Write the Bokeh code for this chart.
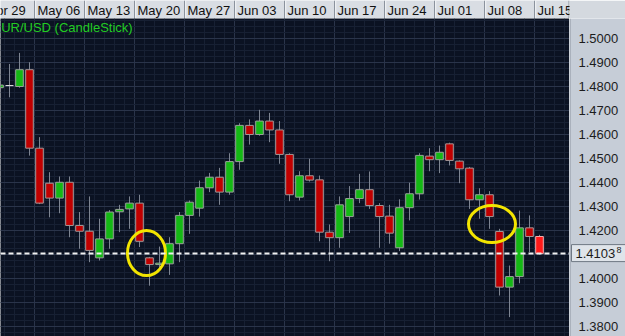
import numpy as np
from bokeh.plotting import figure
from bokeh.layouts import column, row
from bokeh.models import (ColumnDataSource, Range1d, FixedTicker, Span, Label, Grid)
from bokeh.embed import file_html
from bokeh.resources import INLINE
from bokeh.core.properties import value

# ---------------- data (EUR/USD daily, 2011) ----------------
dates = ["2011-05-02", "2011-05-03", "2011-05-04", "2011-05-05", "2011-05-06",
         "2011-05-09", "2011-05-10", "2011-05-11", "2011-05-12", "2011-05-13",
         "2011-05-16", "2011-05-17", "2011-05-18", "2011-05-19", "2011-05-20",
         "2011-05-23", "2011-05-24", "2011-05-25", "2011-05-26", "2011-05-27",
         "2011-05-30", "2011-05-31", "2011-06-01", "2011-06-02", "2011-06-03",
         "2011-06-06", "2011-06-07", "2011-06-08", "2011-06-09", "2011-06-10",
         "2011-06-13", "2011-06-14", "2011-06-15", "2011-06-16", "2011-06-17",
         "2011-06-20", "2011-06-21", "2011-06-22", "2011-06-23", "2011-06-24",
         "2011-06-27", "2011-06-28", "2011-06-29", "2011-06-30", "2011-07-01",
         "2011-07-04", "2011-07-05", "2011-07-06", "2011-07-07", "2011-07-08",
         "2011-07-11", "2011-07-12", "2011-07-13", "2011-07-14", "2011-07-15"]

opens = [1.4795, 1.4804, 1.4800, 1.4870, 1.4543,
         1.4397, 1.4335, 1.4401, 1.4221, 1.4197,
         1.4086, 1.4165, 1.4278, 1.4290, 1.4314,
         1.4086, 1.4058, 1.4061, 1.4145, 1.4263,
         1.4293, 1.4378, 1.4422, 1.4360, 1.4487,
         1.4638, 1.4600, 1.4656, 1.4619, 1.4517,
         1.4339, 1.4428, 1.4411, 1.4193, 1.4170,
         1.4258, 1.4333, 1.4370, 1.4304, 1.4260,
         1.4128, 1.4295, 1.4353, 1.4510, 1.4495,
         1.4561, 1.4489, 1.4460, 1.4328, 1.4349,
         1.4196, 1.3964, 1.4008, 1.4211, 1.4175]

highs = [1.4830, 1.4894, 1.4940, 1.4901, 1.4589,
         1.4443, 1.4425, 1.4425, 1.4277, 1.4342,
         1.4249, 1.4285, 1.4307, 1.4342, 1.4349,
         1.4090, 1.4133, 1.4172, 1.4277, 1.4325,
         1.4408, 1.4440, 1.4461, 1.4522, 1.4647,
         1.4663, 1.4703, 1.4690, 1.4656, 1.4522,
         1.4447, 1.4499, 1.4429, 1.4225, 1.4342,
         1.4385, 1.4436, 1.4446, 1.4314, 1.4307,
         1.4330, 1.4399, 1.4522, 1.4543, 1.4554,
         1.4566, 1.4492, 1.4465, 1.4376, 1.4364,
         1.4207, 1.4054, 1.4283, 1.4263, 1.4182]

lows = [1.4780, 1.4755, 1.4795, 1.4512, 1.4310,
        1.4255, 1.4272, 1.4172, 1.4124, 1.4068,
        1.4075, 1.4124, 1.4193, 1.4207, 1.4131,
        1.3970, 1.4033, 1.4015, 1.4068, 1.4186,
        1.4258, 1.4360, 1.4307, 1.4349, 1.4453,
        1.4558, 1.4595, 1.4568, 1.4478, 1.4322,
        1.4325, 1.4404, 1.4155, 1.4072, 1.4128,
        1.4190, 1.4314, 1.4290, 1.4128, 1.4145,
        1.4114, 1.4242, 1.4329, 1.4447, 1.4439,
        1.4471, 1.4397, 1.4290, 1.4249, 1.4207,
        1.3929, 1.3839, 1.3980, 1.4110, 1.4100]

closes = [1.4806, 1.4804, 1.4870, 1.4543, 1.4314,
          1.4335, 1.4401, 1.4221, 1.4197, 1.4117,
          1.4165, 1.4277, 1.4288, 1.4314, 1.4155,
          1.4058, 1.4064, 1.4145, 1.4263, 1.4318,
          1.4378, 1.4422, 1.4360, 1.4487, 1.4638,
          1.4600, 1.4656, 1.4619, 1.4517, 1.4349,
          1.4428, 1.4410, 1.4193, 1.4170, 1.4307,
          1.4333, 1.4370, 1.4304, 1.4258, 1.4189,
          1.4295, 1.4353, 1.4513, 1.4495, 1.4526,
          1.4492, 1.4457, 1.4328, 1.4349, 1.4258,
          1.3964, 1.4008, 1.4211, 1.4175, 1.41038]

week_dates = ["2011-04-29", "2011-05-06", "2011-05-13", "2011-05-20", "2011-05-27",
              "2011-06-03", "2011-06-10", "2011-06-17", "2011-06-24", "2011-07-01",
              "2011-07-08", "2011-07-15"]
week_labels = ["Apr 29", "May 06", "May 13", "May 20", "May 27", "Jun 03",
               "Jun 10", "Jun 17", "Jun 24", "Jul 01", "Jul 08", "Jul 15"]

price_ticks = [1.38, 1.39, 1.40, 1.41, 1.42, 1.43, 1.44, 1.45, 1.46, 1.47, 1.48, 1.49, 1.50]
last_price = 1.41038

# highlighted areas (yellow rings): trading-day position, price, size
ring_x = [14.7, 49.25]
ring_y = [1.4106, 1.4227]
ring_w = [3.8, 4.7]
ring_h = [0.0188, 0.0154]

title_text = "EUR/USD (CandleStick)"

# ---------------- derived ----------------
start = np.datetime64(dates[0])
xs = np.busday_count(start, np.array(dates, dtype="datetime64[D]")).astype(float)
seps = np.busday_count(start, np.array(week_dates, dtype="datetime64[D]")).astype(float) - 0.5

o = np.array(opens); h = np.array(highs); l = np.array(lows); c = np.array(closes)
fills, borders = [], []
for i in range(len(o)):
    if i == len(o) - 1:
        fills.append("#ff1a1a"); borders.append("#f2b0b0")
    elif c[i] > o[i]:
        fills.append("#14b814"); borders.append("#9aa39a")
    elif c[i] < o[i]:
        fills.append("#c00000"); borders.append("#a39a9a")
    else:
        fills.append("#d8d8d8"); borders.append("#d8d8d8")

src = ColumnDataSource(dict(x=xs, high=h, low=l, top=np.maximum(o, c),
                            bottom=np.minimum(o, c), fill=fills, border=borders))

FRAME_W = 569
AXIS_W = 56
PX_PER_PRICE = 2400.0
x_range = Range1d(0.1, 57.0)
y_range = Range1d(1.375833, 1.508333)
FONT = value("Liberation Sans")

# ---------------- header strip with week labels ----------------
hdr = figure(frame_width=FRAME_W, frame_height=18, x_range=x_range, y_range=Range1d(0, 1),
             x_axis_type=None, y_axis_type=None, toolbar_location=None,
             output_backend="svg", min_border_left=0, min_border_right=AXIS_W,
             min_border_top=0, min_border_bottom=0,
             background_fill_color="#d9dde3", border_fill_color="#d4d9df",
             outline_line_color=None)
hdr.segment(x0=seps, y0=[0] * len(seps), x1=seps, y1=[1] * len(seps),
            line_color="#8b929d", line_width=1)
hdr.segment(x0=seps + 0.12, y0=[0] * len(seps), x1=seps + 0.12, y1=[1] * len(seps),
            line_color="#f2f4f7", line_width=1)
hdr.segment(x0=[x_range.end - 0.05], y0=[0], x1=[x_range.end - 0.05], y1=[1],
            line_color="#8b929d", line_width=1)
hdr.text(x=seps, y=[0.47] * len(seps), text=week_labels, x_offset=3,
         text_align="left", text_baseline="middle", text_font=FONT,
         text_font_size="13px", text_color="#111111")

# ---------------- main chart ----------------
p = figure(frame_width=FRAME_W, frame_height=318, x_range=x_range, y_range=y_range,
           x_axis_type=None, y_axis_type=None, toolbar_location=None,
           output_backend="svg", min_border_left=0, min_border_right=0,
           min_border_top=0, min_border_bottom=0,
           background_fill_color="#0b1222", border_fill_color="#0b1222",
           outline_line_color=None)

day_ticks = list(np.arange(-1.5, 58, 1.0))
xgrid = Grid(dimension=0, ticker=FixedTicker(ticks=list(seps), minor_ticks=day_ticks),
             grid_line_color="#2a344a", grid_line_width=1,
             minor_grid_line_color="#172033", minor_grid_line_width=1)
minor_prices = list(np.arange(1.3725, 1.5101, 0.0025))
ygrid = Grid(dimension=1, ticker=FixedTicker(ticks=price_ticks, minor_ticks=minor_prices),
             grid_line_color="#2a344a", grid_line_width=1,
             minor_grid_line_color="#172033", minor_grid_line_width=1)
p.add_layout(xgrid)
p.add_layout(ygrid)

# candles
p.segment(x0="x", y0="high", x1="x", y1="low", source=src, line_color="#7d8491", line_width=1)
p.vbar(x="x", width=0.76, top="top", bottom="bottom", source=src,
       fill_color="fill", line_color="border", line_width=1)

# current price line
p.add_layout(Span(location=last_price, dimension="width", line_color="#f0f0f0",
                  line_dash="5 3", line_width=2))

# yellow rings
p.ellipse(x=ring_x, y=ring_y, width=ring_w, height=ring_h, fill_alpha=0,
          line_color="#f3e500", line_width=3)

# title
p.add_layout(Label(x=x_range.start, y=y_range.end, x_offset=-8, y_offset=-1,
                   text=title_text, text_baseline="top", text_align="left",
                   text_font="Liberation Sans", text_font_size="13px",
                   text_color="#22cc22"))

# ---------------- price scale (right) ----------------
ax = figure(frame_width=AXIS_W, frame_height=318, x_range=Range1d(0, AXIS_W), y_range=y_range,
            x_axis_type=None, y_axis_type=None, toolbar_location=None,
            output_backend="svg", min_border_left=0, min_border_right=0,
            min_border_top=0, min_border_bottom=0,
            background_fill_color="#c6cdd7", border_fill_color="#c6cdd7",
            outline_line_color=None)
shown = [t for t in price_ticks if abs(t - 1.41) > 1e-9]
ax.text(x=[9] * len(shown), y=shown, text=["%.4f" % t for t in shown],
        text_align="left", text_baseline="middle", text_font=FONT,
        text_font_size="13px", text_color="#1c1c1c")
ax.segment(x0=[0.5], y0=[y_range.start], x1=[0.5], y1=[y_range.end],
           line_color="#8d95a1", line_width=1)

# current price tag
half = 8.5 / PX_PER_PRICE
ax.quad(left=[2], right=[AXIS_W + 2], bottom=[last_price - half + 0.0002],
        top=[last_price + half + 0.0002], fill_color="#dfe4ea",
        line_color="#6f7884", line_width=1)
price_str = "%.5f" % last_price
ax.text(x=[6], y=[last_price], text=[price_str[:-1]], text_align="left",
        text_baseline="middle", text_font=FONT, text_font_size="13px",
        text_color="#1c1c1c")
ax.text(x=[47], y=[last_price], y_offset=-1, text=[price_str[-1]], text_align="left",
        text_baseline="bottom", text_font=FONT, text_font_size="9px",
        text_color="#1c1c1c")

layout = column(hdr, row(p, ax, spacing=0), spacing=0)
open("out.html", "w").write(file_html(layout, INLINE))
